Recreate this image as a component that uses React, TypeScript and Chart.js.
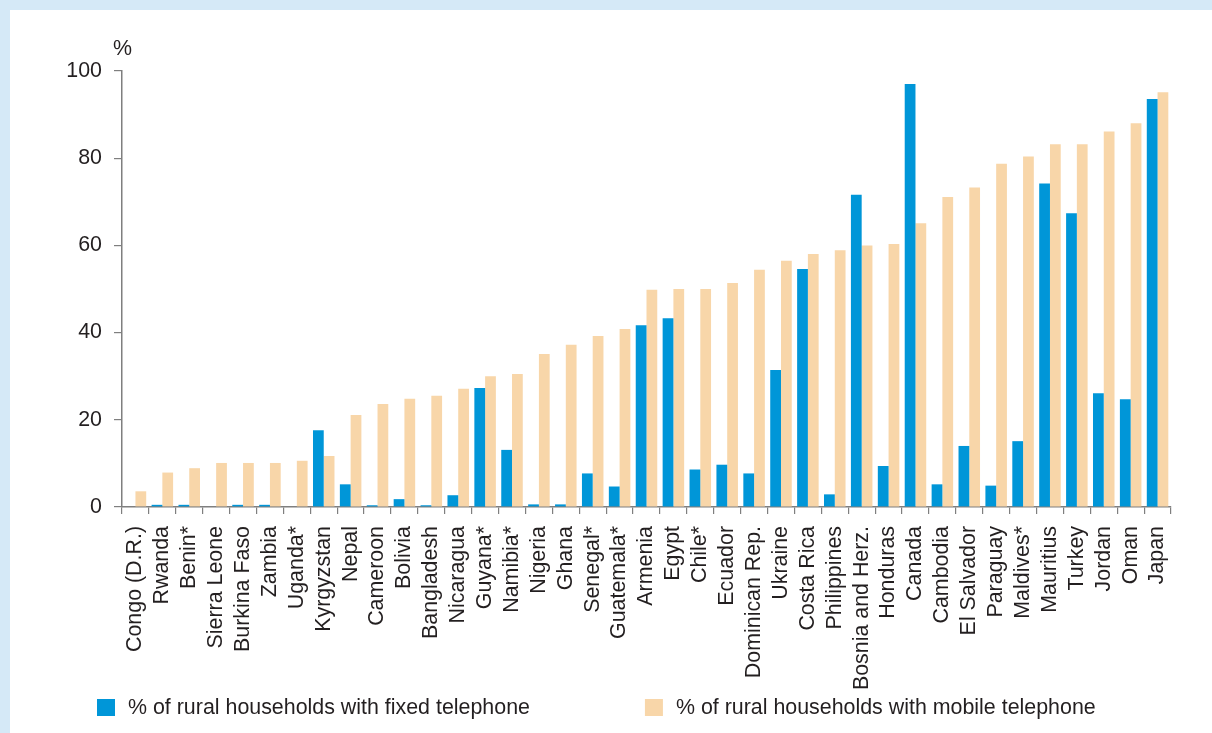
import React, { useEffect, useRef } from "react";
import { Chart, registerables } from "chart.js";

Chart.register(...registerables);

const categories: string[] = [
  "Congo (D.R.)", "Rwanda", "Benin*", "Sierra Leone", "Burkina Faso", "Zambia", "Uganda*",
  "Kyrgyzstan", "Nepal", "Cameroon", "Bolivia", "Bangladesh", "Nicaragua", "Guyana*",
  "Namibia*", "Nigeria", "Ghana", "Senegal*", "Guatemala*", "Armenia", "Egypt", "Chile*",
  "Ecuador", "Dominican Rep.", "Ukraine", "Costa Rica", "Philippines", "Bosnia and Herz.",
  "Honduras", "Canada", "Cambodia", "El Salvador", "Paraguay", "Maldives*", "Mauritius",
  "Turkey", "Jordan", "Oman", "Japan",
];

const fixedPhone: number[] = [
  0, 0.5, 0.5, 0, 0.5, 0.5, 0, 17.6, 5.2, 0.4, 1.8, 0.4, 2.7, 27.3,
  13.1, 0.6, 0.6, 7.7, 4.7, 41.7, 43.3, 8.6,
  9.7, 7.7, 31.4, 54.6, 2.9, 71.6,
  9.4, 97.0, 5.2, 14.0, 4.9, 15.1, 74.2,
  67.4, 26.1, 24.7, 93.6,
];

const mobilePhone: number[] = [
  3.6, 7.9, 8.9, 10.1, 10.1, 10.1, 10.6, 11.7, 21.1, 23.6, 24.8, 25.5, 27.1, 30.0,
  30.5, 35.1, 37.2, 39.2, 40.8, 49.8, 50.0, 50.0,
  51.4, 54.4, 56.5, 58.0, 58.9, 60.0,
  60.3, 65.1, 71.1, 73.3, 78.7, 80.4, 83.2,
  83.2, 86.1, 88.0, 95.1,
];

const seriesLabels: string[] = [
  "% of rural households with fixed telephone",
  "% of rural households with mobile telephone",
];

const yTicks: number[] = [0, 20, 40, 60, 80, 100];

const FONT = "'Liberation Sans', Arial, Helvetica, sans-serif";
const FSIZE = 21.4;
const TEXT = "#231f20";
const AXIS = "#7f7f7f";
const BLUE = "#0096d8";
const ORANGE = "#f8d6a9";

export default function App() {
  const ref = useRef<HTMLCanvasElement | null>(null);

  useEffect(() => {
    document.body.style.margin = "0";
    const canvas = ref.current;
    if (!canvas) return;

    const extras = {
      id: "extras",
      afterDraw(chart: any) {
        const ctx = chart.ctx;
        const area = chart.chartArea;
        ctx.save();
        ctx.fillStyle = TEXT;
        ctx.font = `${FSIZE}px ${FONT}`;
        ctx.textAlign = "left";
        ctx.textBaseline = "alphabetic";
        ctx.fillText("%", area.left - 9, area.top - 16);

        // legend
        let x = 87;
        const boxTop = 689;
        const midY = 698;
        chart.data.datasets.forEach((ds: any) => {
          ctx.fillStyle = ds.backgroundColor;
          ctx.fillRect(x, boxTop, 18, 17);
          ctx.fillStyle = TEXT;
          ctx.textBaseline = "middle";
          ctx.fillText(ds.label, x + 31, midY);
          const w = ctx.measureText(ds.label).width;
          x += 31 + w + 115;
        });
        ctx.restore();
      },
    };

    const chart = new Chart(canvas, {
      type: "bar",
      data: {
        labels: categories,
        datasets: [
          {
            label: seriesLabels[0],
            data: fixedPhone,
            backgroundColor: BLUE,
            borderWidth: 0,
            categoryPercentage: 0.8,
            barPercentage: 1.0,
          },
          {
            label: seriesLabels[1],
            data: mobilePhone,
            backgroundColor: ORANGE,
            borderWidth: 0,
            categoryPercentage: 0.8,
            barPercentage: 1.0,
          },
        ],
      },
      options: {
        animation: false,
        responsive: false,
        maintainAspectRatio: false,
        layout: { padding: { left: 0, top: 61, right: 41, bottom: 0 } },
        plugins: {
          legend: { display: false },
          tooltip: { enabled: false },
          title: { display: false },
        },
        scales: {
          x: {
            grid: {
              offset: true,
              drawOnChartArea: false,
              drawTicks: true,
              tickLength: 7,
              color: AXIS,
              lineWidth: 1.2,
            },
            border: { display: true, color: AXIS, width: 1.5 },
            ticks: {
              autoSkip: false,
              minRotation: 90,
              maxRotation: 90,
              padding: 12,
              color: TEXT,
              font: { family: FONT, size: FSIZE },
            },
            afterFit(scale: any) {
              scale.height = 226;
            },
          },
          y: {
            min: 0,
            max: 100,
            afterBuildTicks(scale: any) {
              scale.ticks = yTicks.map((v) => ({ value: v }));
            },
            grid: {
              drawOnChartArea: false,
              drawTicks: true,
              tickLength: 8,
              color: AXIS,
              lineWidth: 1.2,
            },
            border: { display: true, color: AXIS, width: 1.5 },
            ticks: {
              padding: 12,
              color: TEXT,
              font: { family: FONT, size: FSIZE },
            },
            afterFit(scale: any) {
              scale.width = 112;
            },
          },
        },
      },
      plugins: [extras],
    });

    return () => chart.destroy();
  }, []);

  return (
    <div style={{ width: 1212, height: 733, background: "#d5e9f7", position: "relative", overflow: "hidden" }}>
      <div style={{ position: "absolute", left: 10, top: 10, width: 1202, height: 723, background: "#ffffff" }}>
        <canvas ref={ref} width={1202} height={723} style={{ display: "block" }} />
      </div>
    </div>
  );
}
